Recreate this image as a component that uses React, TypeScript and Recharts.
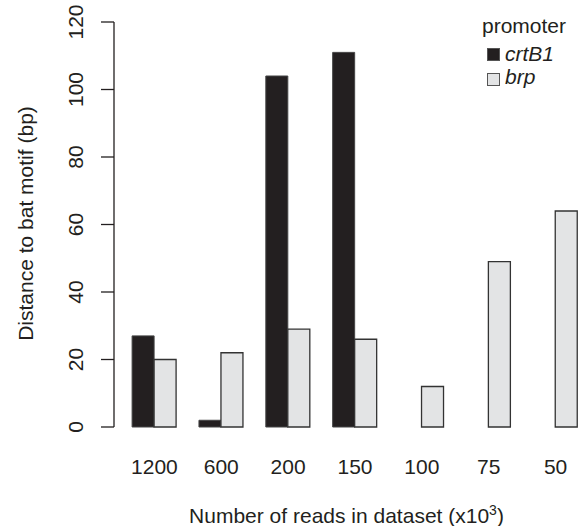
import React from 'react';
import { BarChart, Bar, XAxis, YAxis, Legend } from 'recharts';

// values
const readCounts = ['1200', '600', '200', '150', '100', '75', '50'];
const crtB1 = [27, 2, 104, 111, null, null, null];
const brp = [20, 22, 29, 26, 12, 49, 64];
const yTicks = [0, 20, 40, 60, 80, 100, 120];

const data = readCounts.map((reads, i) => ({ reads, crtB1: crtB1[i], brp: brp[i] }));

const FONT = '"Liberation Sans", Arial, Helvetica, sans-serif';
const INK = '#231f20';
const GREY = '#e3e4e5';

const YTick = (props: any) => {
  const { x, y, payload } = props;
  return (
    <text
      x={x}
      y={y}
      transform={`rotate(-90, ${x}, ${y})`}
      textAnchor="middle"
      fontSize={21}
      fontFamily={FONT}
      fill={INK}
    >
      {payload.value}
    </text>
  );
};

const XTick = (props: any) => {
  const { x, y, payload } = props;
  return (
    <text x={x} y={y} textAnchor="middle" fontSize={21} fontFamily={FONT} fill={INK}>
      {payload.value}
    </text>
  );
};

const LegendBox = () => (
  <svg width={579} height={100} style={{ display: 'block' }}>
    <text x={482} y={33} fontSize={21} fontFamily={FONT} fill={INK}>promoter</text>
    <rect x={487.5} y={48.5} width={12} height={12} fill={INK} stroke="#555" />
    <text x={505} y={61} fontSize={21} fontFamily={FONT} fontStyle="italic" fill={INK}>crtB1</text>
    <rect x={487.5} y={73.5} width={12} height={12} fill={GREY} stroke="#555" />
    <text x={505} y={84} fontSize={21} fontFamily={FONT} fontStyle="italic" fill={INK}>brp</text>
  </svg>
);

export default function App() {
  return (
    <div style={{ position: 'absolute', left: 0, top: 0, width: 579, height: 526, overflow: 'hidden', background: '#fff' }}>
      <BarChart
        width={600}
        height={526}
        data={data}
        margin={{ top: 22, right: 11, left: 0, bottom: 0 }}
        barCategoryGap="16.6%"
        barGap={0}
      >
        <XAxis
          dataKey="reads"
          height={99}
          axisLine={false}
          tickLine={false}
          tickSize={0}
          tickMargin={47}
          padding={{ left: 7, right: 0 }}
          tick={<XTick />}
          interval={0}
          label={{
            content: () => (
              <text x={346.5} y={523} textAnchor="middle" fontSize={21} fontFamily={FONT} fill={INK}>
                Number of reads in dataset (x10
                <tspan fontSize={14} dy={-8}>3</tspan>
                <tspan dy={8}>)</tspan>
              </text>
            ),
          }}
        />
        <YAxis
          width={114}
          domain={[0, 120]}
          ticks={yTicks}
          interval={0}
          tickSize={13}
          tickMargin={18}
          axisLine={{ stroke: INK, strokeWidth: 1.3 }}
          tickLine={{ stroke: INK, strokeWidth: 1.3 }}
          tick={<YTick />}
          label={{
            content: () => (
              <text
                x={33}
                y={223.5}
                transform="rotate(-90, 33, 223.5)"
                textAnchor="middle"
                fontSize={21}
                fontFamily={FONT}
                fill={INK}
              >
                Distance to bat motif (bp)
              </text>
            ),
          }}
        />
        <Legend
          layout="horizontal"
          verticalAlign="middle"
          align="center"
          wrapperStyle={{ left: 0, top: 0, width: 579, height: 100 }}
          content={<LegendBox />}
        />
        <Bar dataKey="crtB1" fill={INK} stroke="#444" strokeWidth={1} isAnimationActive={false} />
        <Bar dataKey="brp" fill={GREY} stroke="#333" strokeWidth={1.3} isAnimationActive={false} />
      </BarChart>
    </div>
  );
}
